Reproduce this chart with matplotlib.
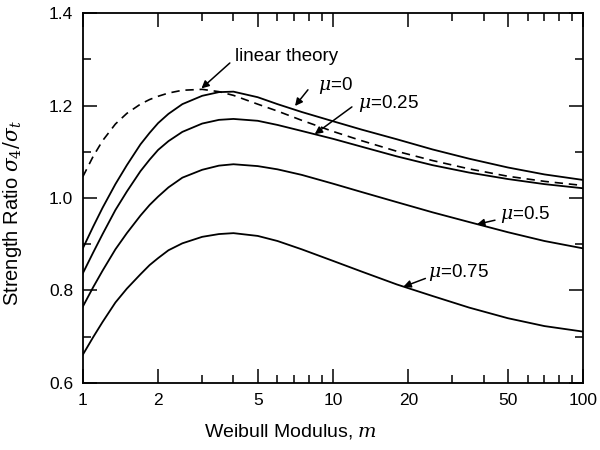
"""Strength ratio vs Weibull modulus for several mu values."""
import matplotlib
matplotlib.use('Agg')
import matplotlib.pyplot as plt
from matplotlib.ticker import FixedLocator, NullFormatter

plt.rcParams['font.family'] = ['Liberation Sans', 'DejaVu Sans']
plt.rcParams['mathtext.fontset'] = 'dejavuserif'

# Weibull modulus grid
m = [1, 1.1, 1.2, 1.35, 1.5, 1.7, 1.85, 2, 2.2, 2.5, 3, 3.5, 4, 5, 6,
     7.5, 10, 13, 18, 25, 35, 50, 70, 100]

linear_theory = [1.046, 1.090, 1.124, 1.160, 1.183, 1.203, 1.213, 1.220,
                 1.227, 1.233, 1.235, 1.230, 1.222, 1.203, 1.188, 1.168,
                 1.144, 1.124, 1.101, 1.081, 1.063, 1.047, 1.036, 1.027]
mu_0 = [0.891, 0.938, 0.979, 1.030, 1.071, 1.116, 1.141, 1.162, 1.182,
        1.203, 1.221, 1.229, 1.230, 1.218, 1.203, 1.186, 1.166, 1.148,
        1.127, 1.105, 1.085, 1.066, 1.051, 1.039]
mu_025 = [0.837, 0.882, 0.922, 0.974, 1.014, 1.058, 1.083, 1.104, 1.123,
          1.143, 1.161, 1.169, 1.171, 1.167, 1.158, 1.145, 1.128, 1.111,
          1.090, 1.071, 1.055, 1.041, 1.030, 1.021]
mu_05 = [0.765, 0.807, 0.843, 0.889, 0.924, 0.962, 0.985, 1.003, 1.023,
         1.044, 1.061, 1.070, 1.073, 1.069, 1.062, 1.050, 1.031, 1.013,
         0.991, 0.969, 0.948, 0.926, 0.907, 0.891]
mu_075 = [0.661, 0.699, 0.732, 0.774, 0.804, 0.835, 0.855, 0.870, 0.887,
          0.902, 0.916, 0.922, 0.924, 0.918, 0.907, 0.889, 0.864, 0.841,
          0.813, 0.788, 0.763, 0.740, 0.723, 0.711]

x_major = [1, 2, 5, 10, 20, 50, 100]
x_minor = [3, 4, 6, 7, 8, 9, 30, 40, 60, 70, 80, 90]

# label text, text anchor (left, centre), arrow tail, arrow tip
labels = [
    ('linear theory', (4.06, 1.305), (3.87, 1.292), (2.98, 1.237)),
    (r'$\mu$=0', (8.72, 1.244), (7.94, 1.234), (7.05, 1.199)),
    (r'$\mu$=0.25', (12.6, 1.205), (11.9, 1.197), (8.45, 1.138)),
    (r'$\mu$=0.5', (46.5, 0.965), (44.4, 0.952), (37.6, 0.943)),
    (r'$\mu$=0.75', (23.9, 0.838), (23.4, 0.826), (19.1, 0.808)),
]

fig = plt.figure(figsize=(6, 4.5), dpi=100)
ax = fig.add_axes([0.138, 0.149, 0.834, 0.822])

ax.plot(m, linear_theory, color='black', lw=1.2, ls=(0, (5, 3.5)))
for ys in (mu_0, mu_025, mu_05, mu_075):
    ax.plot(m, ys, color='black', lw=1.3)

ax.set_xscale('log')
ax.set_xlim(1, 100)
ax.set_ylim(0.6, 1.4)
ax.xaxis.set_major_locator(FixedLocator(x_major))
ax.xaxis.set_minor_locator(FixedLocator(x_minor))
ax.xaxis.set_minor_formatter(NullFormatter())
ax.set_xticklabels([str(v) for v in x_major])
ax.set_yticks([0.6, 0.8, 1.0, 1.2, 1.4])
ax.set_yticks([0.7, 0.9, 1.1, 1.3], minor=True)

ax.tick_params(which='both', direction='in', top=True, right=True,
               labelsize=12.5, width=1.1)
ax.tick_params(which='major', length=10, pad=7)
ax.tick_params(which='minor', length=6)
for sp in ax.spines.values():
    sp.set_linewidth(1.3)

ax.set_xlabel(r'Weibull Modulus, $m$', fontsize=14)
ax.xaxis.set_label_coords(0.416, -0.105)
ax.set_ylabel(r'Strength Ratio $\sigma_4/\sigma_t$', fontsize=14.5)
ax.yaxis.set_label_coords(-0.118, 0.46)

for text, pos, tail, tip in labels:
    ax.text(pos[0], pos[1], text, fontsize=13.5, ha='left', va='center')
    ax.annotate('', xy=tip, xytext=tail,
                arrowprops=dict(arrowstyle='-|>', color='black', lw=1.1,
                                mutation_scale=11, shrinkA=0, shrinkB=0))

fig.savefig('out.png', dpi=100)
